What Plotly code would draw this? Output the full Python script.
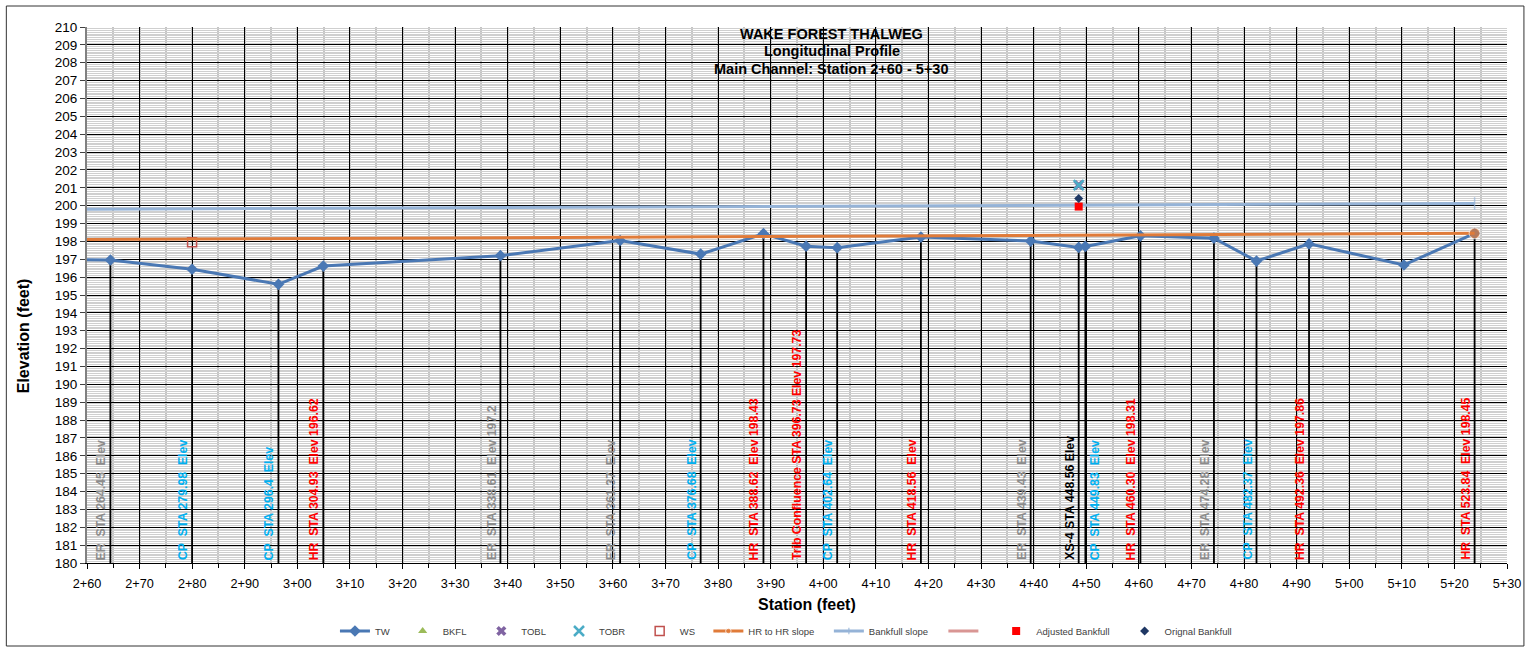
import plotly.graph_objects as go

# ---------------- data ----------------
tw_station = [255.0, 264.45, 279.98, 296.4, 304.93, 338.61, 361.37, 376.68, 388.62, 396.73,
              402.64, 418.56, 439.43, 448.56, 449.83, 460.30, 474.28, 482.37, 492.36, 510.4, 523.84]
tw_elev = [197.0, 196.96, 196.44, 195.60, 196.62, 197.20, 198.05, 197.29, 198.43, 197.73,
           197.65, 198.24, 198.02, 197.66, 197.72, 198.31, 198.18, 196.90, 197.86, 196.68, 198.45]

bkfl_station = [None]
bkfl_elev = [None]
tobl_station = [448.56]
tobl_elev = [201.15]
tobr_station = [448.56]
tobr_elev = [201.15]
ws_station = [279.98]
ws_elev = [197.95]
hr_slope_station = [260.0, 523.84]
hr_slope_elev = [198.10, 198.45]
bankfull_slope_station = [260.0, 523.84]
bankfull_slope_elev = [199.80, 200.12]
pink_station = [None]
pink_elev = [None]
adj_bkf_station = [448.56]
adj_bkf_elev = [199.95]
orig_bkf_station = [448.56]
orig_bkf_elev = [200.40]

label_station = [264.45, 279.98, 296.4, 304.93, 338.61, 361.37, 376.68, 388.62, 396.73, 402.64,
                 418.56, 439.43, 448.56, 449.83, 460.30, 474.28, 482.37, 492.36, 523.84]
label_text = ["ER  STA 264.45  Elev", "CP  STA 279.98  Elev", "CP  STA 296.4  Elev",
              "HR  STA 304.93  Elev 196.62", "ER  STA 338.61  Elev 197.2", "ER  STA 361.37  Elev",
              "CP  STA 376.68  Elev", "HR  STA 388.62  Elev 198.43",
              "Trib Confluence STA 396.73 Elev 197.73", "CP  STA 402.64  Elev",
              "HR  STA 418.56  Elev", "ER  STA 439.43  Elev", "XS-4 STA 448.56 Elev",
              "CP  STA 449.83  Elev", "HR  STA 460.30  Elev 198.31", "ER  STA 474.28  Elev",
              "CP  STA 482.37  Elev", "HR  STA 492.36  Elev 197.86", "HR  STA 523.84  Elev 198.45"]
label_kind = ["ER", "CP", "CP", "HR", "ER", "ER", "CP", "HR", "TRIB", "CP",
              "HR", "ER", "XS", "CP", "HR", "ER", "CP", "HR", "HR"]

x_tick_vals = [260, 270, 280, 290, 300, 310, 320, 330, 340, 350, 360, 370, 380, 390,
               400, 410, 420, 430, 440, 450, 460, 470, 480, 490, 500, 510, 520, 530]
x_tick_text = ["2+60", "2+70", "2+80", "2+90", "3+00", "3+10", "3+20", "3+30", "3+40", "3+50",
               "3+60", "3+70", "3+80", "3+90", "4+00", "4+10", "4+20", "4+30", "4+40", "4+50",
               "4+60", "4+70", "4+80", "4+90", "5+00", "5+10", "5+20", "5+30"]

title_lines = ["WAKE FOREST THALWEG", "Longitudinal Profile", "Main Channel: Station 2+60 - 5+30"]

# ---------------- styling ----------------
FONT = "Liberation Sans, Arial, sans-serif"
kind_color = {"ER": "#8C8C8C", "CP": "#00B0F0", "HR": "#FF0000", "TRIB": "#FF0000", "XS": "#000000"}
labels_on_right = {449.83}   # label drawn to the right of its drop line

PL, PR, PT, PB = 87, 1513, 27, 563   # plot area in pixels
W, H = 1533, 651


def px2paper_x(px):
    return (px - PL) / (PR - PL)


def px2paper_y(py):
    return (PB - py) / (PB - PT)


fig = go.Figure()

# drop lines from thalweg points down to the axis
tw_lookup = dict(zip(tw_station, tw_elev))
drop_x, drop_y = [], []
for s in label_station:
    drop_x += [s, s, None]
    drop_y += [tw_lookup[s], 180, None]
fig.add_trace(go.Scatter(x=drop_x, y=drop_y, mode="lines", line=dict(color="black", width=1.8),
                         showlegend=False, hoverinfo="skip"))

legend_left_px = [336, 404, 483, 561, 642, 711, 832, 947, 1000, 1129]

traces = [
    dict(name="TW", x=tw_station, y=tw_elev, mode="lines+markers",
         line=dict(color="#4A78B4", width=3), marker=dict(symbol="diamond", size=9, color="#4A78B4")),
    dict(name="BKFL", x=bkfl_station, y=bkfl_elev, mode="markers",
         marker=dict(symbol="triangle-up", size=8, color="#9BBB59")),
    dict(name="TOBL", x=tobl_station, y=tobl_elev, mode="markers",
         marker=dict(symbol="x", size=9, color="#8064A2")),
    dict(name="TOBR", x=tobr_station, y=tobr_elev, mode="markers",
         marker=dict(symbol="x-thin-open", size=10, color="#4BACC6", line=dict(color="#4BACC6", width=2.5))),
    dict(name="WS", x=ws_station, y=ws_elev, mode="markers",
         marker=dict(symbol="square-open", size=9, color="#C0504D", line=dict(color="#C0504D", width=1.5))),
    dict(name="HR to HR slope", x=hr_slope_station, y=hr_slope_elev, mode="lines+markers",
         line=dict(color="#E07B39", width=3), marker=dict(symbol="circle", size=[0, 11], color="#E07B39")),
    dict(name="Bankfull slope", x=bankfull_slope_station, y=bankfull_slope_elev, mode="lines+markers",
         line=dict(color="#95B3D7", width=3),
         marker=dict(symbol="line-ns-open", size=[0, 9], color="#95B3D7", line=dict(color="#95B3D7", width=1.5))),
    dict(name="", x=pink_station, y=pink_elev, mode="lines",
         line=dict(color="#D99694", width=3)),
    dict(name="Adjusted Bankfull", x=adj_bkf_station, y=adj_bkf_elev, mode="markers",
         marker=dict(symbol="square", size=8, color="#FF0000")),
    dict(name="Orignal Bankfull", x=orig_bkf_station, y=orig_bkf_elev, mode="markers",
         marker=dict(symbol="diamond", size=7, color="#1F3864")),
]

legend_layouts = {}
for i, t in enumerate(traces):
    lname = "legend" if i == 0 else f"legend{i + 1}"
    fig.add_trace(go.Scatter(legend=lname, showlegend=True, **t))
    legend_layouts[lname] = dict(
        x=px2paper_x(legend_left_px[i]), xref="paper",
        y=(H - 631) / H, yref="container", xanchor="left", yanchor="middle",
        orientation="h", bgcolor="rgba(0,0,0,0)", borderwidth=0,
        font=dict(family=FONT, size=9.5, color="#404040"),
    )

annotations = []
for s, txt, k in zip(label_station, label_text, label_kind):
    right = s in labels_on_right
    annotations.append(dict(
        x=s, y=180, xref="x", yref="y", text="<b>" + txt.replace("  ", "\u00a0\u00a0") + "</b>",
        textangle=-90, xanchor="left" if right else "right", yanchor="bottom",
        xshift=1 if right else 0, yshift=1, showarrow=False,
        font=dict(family=FONT, size=12.3, color=kind_color[k]),
    ))

for line_text, ypx in zip(title_lines, [33.5, 51, 68.5]):
    annotations.append(dict(
        x=px2paper_x(835), y=px2paper_y(ypx), xref="paper", yref="paper", showarrow=False,
        text="<b>" + line_text + "</b>", xanchor="center", yanchor="middle",
        font=dict(family=FONT, size=14.5, color="black"),
    ))
annotations.append(dict(
    x=px2paper_x(23), y=px2paper_y(336), xref="paper", yref="paper", showarrow=False,
    text="<b>Elevation (feet)</b>", textangle=-90, xanchor="center", yanchor="middle",
    font=dict(family=FONT, size=16, color="black"),
))
annotations.append(dict(
    x=px2paper_x(810), y=px2paper_y(604), xref="paper", yref="paper", showarrow=False,
    text="<b>Station (feet)</b>", xanchor="center", yanchor="middle",
    font=dict(family=FONT, size=16, color="black"),
))

fig.update_layout(
    width=W, height=H,
    margin=dict(l=PL, r=W - PR, t=PT, b=H - PB, pad=0),
    paper_bgcolor="white", plot_bgcolor="white",
    font=dict(family=FONT, color="black"),
    showlegend=True,
    annotations=annotations,
    hovermode=False,
    shapes=[dict(type="rect", xref="paper", yref="paper",
                 x0=px2paper_x(6), x1=px2paper_x(1530), y0=px2paper_y(646), y1=px2paper_y(6),
                 line=dict(color="#333333", width=1), fillcolor="rgba(0,0,0,0)", layer="below")],
    **legend_layouts,
)

fig.update_xaxes(
    range=[260, 530], tickmode="array", tickvals=x_tick_vals, ticktext=x_tick_text,
    showgrid=True, gridcolor="#000000", gridwidth=1, zeroline=False,
    ticks="outside", ticklen=5, tickcolor="black", tickwidth=1, ticklabelstandoff=4,
    tickfont=dict(family=FONT, size=12.7, color="black"),
    showline=True, linecolor="#000000", linewidth=1,
    minor=dict(tickmode="linear", tick0=260, dtick=5, showgrid=True, gridcolor="#C4C4C4",
               gridwidth=2, ticks="outside", ticklen=4, tickcolor="black"),
)
fig.update_yaxes(
    range=[180, 210], tickmode="linear", tick0=180, dtick=1,
    showgrid=True, gridcolor="#000000", gridwidth=1, zeroline=False,
    ticks="outside", ticklen=5, tickcolor="#404040", tickwidth=1,
    tickfont=dict(family=FONT, size=13.5, color="black"),
    showline=True, linecolor="#808080", linewidth=2, mirror=False,
    minor=dict(tickmode="linear", tick0=180, dtick=0.1, showgrid=True, gridcolor="#CFCFCF",
               gridwidth=1, ticks=""),
)

fig.write_html("out.html", config={"displayModeBar": False},
               post_script="document.body.style.margin='0px';")
